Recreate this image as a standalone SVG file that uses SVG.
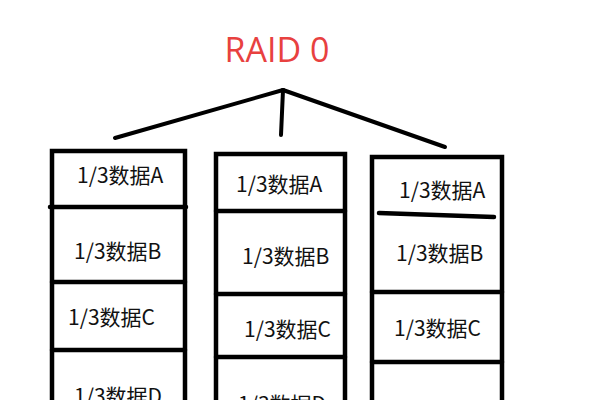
<svg xmlns="http://www.w3.org/2000/svg" width="599" height="400" viewBox="0 0 599 400">
<style>
.b{fill:none;stroke:#000;stroke-width:4.5;stroke-linecap:round}
.c{stroke:#000;stroke-width:4;stroke-linecap:round;fill:none}
.t{font-family:"Noto Sans CJK SC","Noto Sans",sans-serif;font-size:21px;fill:#111}
</style>
<rect width="599" height="400" fill="#fff"/>
<text id="title" x="277" y="62" text-anchor="middle" font-family="'Open Sans','Noto Sans',sans-serif" font-size="34" fill="#e8413f">RAID 0</text>
<g id="connectors">
<line class="c" x1="283" y1="90" x2="115" y2="138"/>
<line class="c" x1="283" y1="90" x2="281" y2="135"/>
<line class="c" x1="283" y1="90" x2="445" y2="147"/>
</g>
<g id="disk1">
<path class="b" d="M52,402 V151 H185 V402"/>
<line class="b" x1="50" y1="207" x2="186" y2="207"/>
<line class="b" x1="52" y1="282" x2="185" y2="282"/>
<line class="b" x1="52" y1="350" x2="185" y2="350"/>
<text class="t" x="77" y="183">1/3数据A</text>
<text class="t" x="74" y="259">1/3数据B</text>
<text class="t" x="68" y="325">1/3数据C</text>
<text class="t" x="74" y="404">1/3数据D</text>
</g>
<g id="disk2">
<path class="b" d="M216,402 V154 H345 V402"/>
<line class="b" x1="216" y1="211" x2="345" y2="211"/>
<line class="b" x1="216" y1="294" x2="345" y2="294"/>
<line class="b" x1="216" y1="357" x2="345" y2="357"/>
<text class="t" x="236" y="192">1/3数据A</text>
<text class="t" x="242" y="264">1/3数据B</text>
<text class="t" x="244" y="337">1/3数据C</text>
<text class="t" x="238" y="412">1/3数据D</text>
</g>
<g id="disk3">
<path class="b" d="M372,402 V157 H502 V402"/>
<line class="b" x1="379" y1="213" x2="494" y2="217"/>
<line class="b" x1="372" y1="292" x2="502" y2="292"/>
<line class="b" x1="372" y1="362" x2="502" y2="362"/>
<text class="t" x="399" y="198">1/3数据A</text>
<text class="t" x="396" y="261">1/3数据B</text>
<text class="t" x="394" y="336">1/3数据C</text>
</g>
</svg>
